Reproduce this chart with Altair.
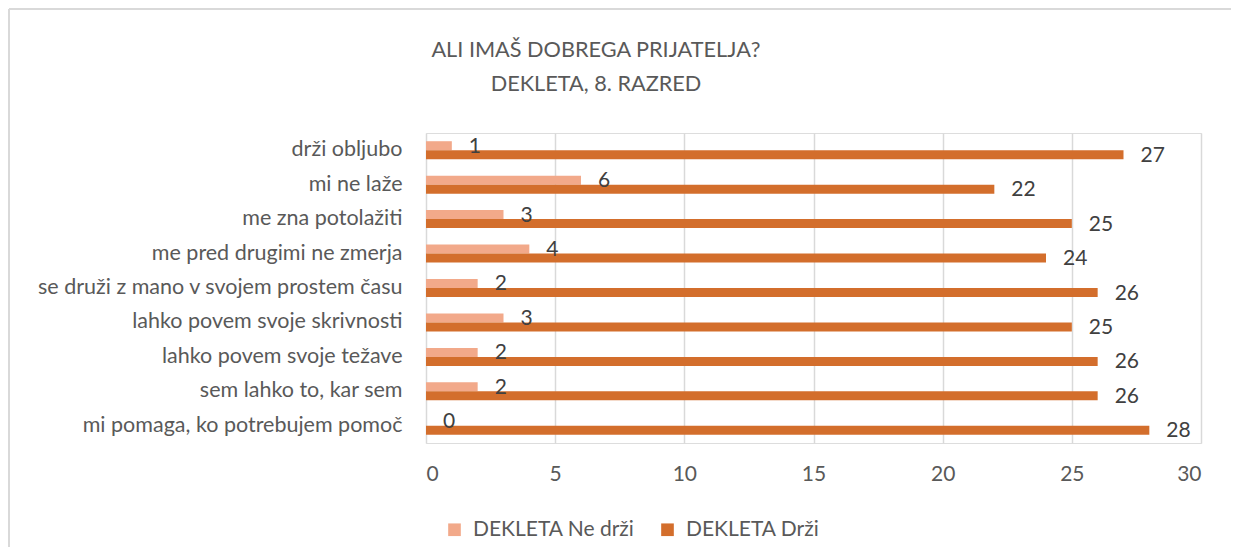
import altair as alt
import pandas as pd

title_lines = ["ALI IMAŠ DOBREGA PRIJATELJA?", "DEKLETA, 8. RAZRED"]
categories = [
    "drži obljubo",
    "mi ne laže",
    "me zna potolažiti",
    "me pred drugimi ne zmerja",
    "se druži z mano v svojem prostem času",
    "lahko povem svoje skrivnosti",
    "lahko povem svoje težave",
    "sem lahko to, kar sem",
    "mi pomaga, ko potrebujem pomoč",
]
series = ["DEKLETA Ne drži", "DEKLETA Drži"]
ne_drzi = [1, 6, 3, 4, 2, 3, 2, 2, 0]
drzi = [27, 22, 25, 24, 26, 25, 26, 26, 28]
x_ticks = [0, 5, 10, 15, 20, 25, 30]
colors = ["#F2A98A", "#D36E2C"]

rows = []
for c, a, b in zip(categories, ne_drzi, drzi):
    rows.append({"kategorija": c, "serija": series[0], "vrednost": a})
    rows.append({"kategorija": c, "serija": series[1], "vrednost": b})
df = pd.DataFrame(rows)

FONT = "Lato"
GRAY = "#595959"

base = alt.Chart(df).encode(
    y=alt.Y(
        "kategorija:N",
        sort=categories,
        scale=alt.Scale(paddingInner=0.477, paddingOuter=0.2385),
        axis=alt.Axis(
            title=None, domain=False, ticks=False, labelFontSize=21.5,
            labelColor=GRAY, labelPadding=24, labelFont=FONT, labelLimit=600,
        ),
    ),
    yOffset=alt.YOffset("serija:N", sort=series,
                        scale=alt.Scale(paddingInner=0, paddingOuter=0)),
)

bars = base.mark_bar().encode(
    x=alt.X(
        "vrednost:Q",
        scale=alt.Scale(domain=[0, 30], nice=False, zero=True),
        axis=alt.Axis(
            title=None, values=x_ticks, grid=True, gridColor="#D9D9D9",
            gridWidth=1.5, domain=False, ticks=False, labelFontSize=21,
            labelColor=GRAY, labelFont=FONT, labelPadding=20,
        ),
    ),
    color=alt.Color(
        "serija:N", sort=series,
        scale=alt.Scale(domain=series, range=colors),
        legend=alt.Legend(
            title=None, orient="none", legendX=18, legendY=386,
            direction="horizontal", symbolType="square", symbolSize=160,
            symbolStrokeWidth=0, labelFontSize=21, labelFont=FONT,
            labelColor=GRAY, labelOffset=8, columnPadding=22, labelLimit=400,
        ),
    ),
)

labels = base.mark_text(
    align="left", baseline="middle", dx=17, dy=1, fontSize=21,
    font=FONT, color="#404040",
).encode(x="vrednost:Q", text="vrednost:Q")

one = pd.DataFrame({"f": [0]})
frame_left = alt.Chart(one).mark_rule(color="#D9D9D9", strokeWidth=2).encode(
    x=alt.value(-417), y=alt.value(-124), y2=alt.value(419),
)
frame_top = alt.Chart(one).mark_rule(color="#D9D9D9", strokeWidth=2).encode(
    x=alt.value(-417), x2=alt.value(805), y=alt.value(-124),
)

title_df = pd.DataFrame({"t": title_lines, "line": [0, 1]})
title1 = alt.Chart(title_df.iloc[[0]]).mark_text(
    fontSize=21.7, font=FONT, color=GRAY, align="center", baseline="alphabetic"
).encode(text="t:N", x=alt.value(170), y=alt.value(-76))
title2 = alt.Chart(title_df.iloc[[1]]).mark_text(
    fontSize=21.7, font=FONT, color=GRAY, align="center", baseline="alphabetic"
).encode(text="t:N", x=alt.value(170), y=alt.value(-42))

chart = alt.layer(frame_left, frame_top, title1, title2, bars, labels).properties(
    width=775,
    height=310,
    autosize=alt.AutoSizeParams(type="none"),
    padding={"left": 418, "top": 125, "right": 30, "bottom": 104},
).configure_view(stroke=None).configure(background="white")

chart.save("out.html", embed_options={"renderer": "svg", "actions": False})
